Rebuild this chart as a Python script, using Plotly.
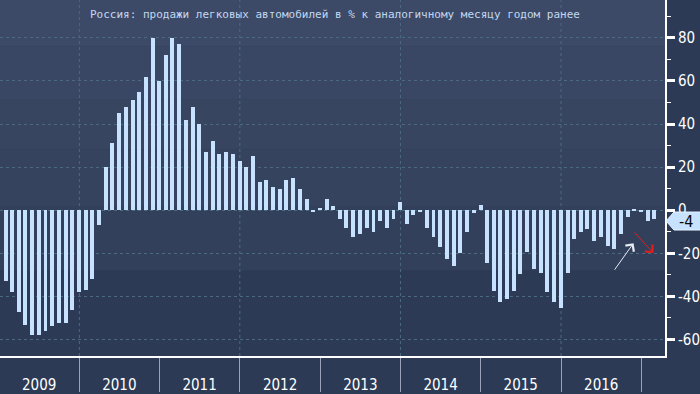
import pandas as pd
import plotly.graph_objects as go

TITLE = "Россия: продажи легковых автомобилей в % к аналогичному месяцу годом ранее"
START_MONTH = "2009-01-31"
VALUES = [
    # 2009
    -33.0, -38.1, -47.3, -53.1, -58.1, -58.1, -56.3, -54.0, -52.2, -52.2, -46.2, -38.1,
    # 2010
    -37.0, -31.9, -7.1, 20.0, 31.0, 45.0, 48.0, 51.0, 55.0, 62.0, 80.0, 60.0,
    # 2011
    72.0, 80.0, 77.0, 42.0, 48.0, 40.0, 27.0, 32.0, 26.0, 27.0, 26.0, 23.0,
    # 2012
    20.0, 25.0, 13.0, 14.0, 11.0, 10.0, 14.0, 15.0, 10.0, 5.0, -0.5, 1.0,
    # 2013
    5.0, 2.0, -4.0, -8.2, -12.3, -11.0, -8.2, -10.0, -5.0, -8.2, -4.0, 3.6,
    # 2014
    -6.4, -2.3, -0.6, -8.2, -12.3, -17.3, -22.7, -25.9, -20.0, -10.0, -1.2, 2.3,
    # 2015
    -24.5, -37.7, -42.7, -41.4, -37.7, -29.5, -19.5, -27.3, -29.1, -38.2, -42.7, -45.5,
    # 2016
    -29.1, -13.2, -9.9, -8.6, -14.5, -12.3, -16.8, -18.2, -10.9, -3.1, 0.5, -0.9,
    # 2017
    -4.9, -4.1,
]
YEARS = ["2009", "2010", "2011", "2012", "2013", "2014", "2015", "2016"]
YTICKS = [80, 60, 40, 20, 0, -20, -40, -60]
LAST_LABEL = "-4"

dates = pd.date_range(START_MONTH, periods=len(VALUES), freq="ME")

BAR = "#c6e2ff"
GRID = "#4b6a80"
FONT_NARROW = "Liberation Sans Narrow, DejaVu Sans Condensed, Arial Narrow, sans-serif"

fig = go.Figure()
fig.add_trace(go.Bar(
    x=dates, y=VALUES,
    marker=dict(color=BAR, line=dict(width=0)),
    width=1000 * 3600 * 24 * 18,
    hoverinfo="x+y",
))

year_mid = [f"{y}-07-02" for y in YEARS]
year_bounds = [f"{int(y) + 1}-01-01" for y in YEARS]

# background gradient bands (plot area)
bands = [
    (0.00, 0.13, "#3d4a67"),
    (0.13, 0.28, "#3a4764"),
    (0.28, 0.42, "#384561"),
    (0.42, 0.58, "#35435f"),
    (0.58, 0.76, "#33405c"),
    (0.76, 1.00, "#2d3a56"),
]
shapes = []
for t0, t1, col in bands:
    shapes.append(dict(type="rect", xref="paper", yref="paper",
                       x0=0, x1=1, y0=1 - t1, y1=1 - t0,
                       fillcolor=col, line=dict(width=0), layer="below"))
# vertical dotted grid every two years
for yb in year_bounds[0::2]:
    shapes.append(dict(type="line", xref="x", yref="paper",
                       x0=yb, x1=yb, y0=0, y1=1,
                       line=dict(color=GRID, width=1, dash="dot"), layer="below"))
# callout box for last value
shapes.append(dict(type="path", xref="paper", yref="y",
                   xsizemode="pixel", ysizemode="pixel",
                   xanchor=1, yanchor=VALUES[-1],
                   path="M 1,-2 L 9,7 L 40,7 L 40,-11 L 9,-11 Z",
                   fillcolor=BAR, line=dict(color="#e8f2ff", width=1), layer="above"))

annotations = [
    dict(xref="paper", yref="y", x=1, y=VALUES[-1], xanchor="left", yanchor="middle",
         xshift=12, yshift=-2, text=LAST_LABEL, showarrow=False,
         font=dict(family=FONT_NARROW, size=16, color="#0a0a0a")),
    # white arrow (up)
    dict(x="2016-11-26", y=-15.3, xref="x", yref="y", ax=-20, ay=28,
         showarrow=True, arrowhead=4, arrowsize=2, arrowwidth=1,
         arrowcolor="#e6ecf4", text=""),
    # red arrow (down)
    dict(x="2017-02-24", y=-19.9, xref="x", yref="y", ax=-20, ay=-22,
         showarrow=True, arrowhead=4, arrowsize=2, arrowwidth=1,
         arrowcolor="#e01e1e", text=""),
]

fig.update_layout(
    width=700, height=394,
    margin=dict(l=0, r=34, t=0, b=34),
    paper_bgcolor="#2c3a56",
    plot_bgcolor="rgba(0,0,0,0)",
    showlegend=False,
    bargap=0,
    title=dict(text=TITLE, x=0.4785, xanchor="center", y=0.965, yanchor="middle",
               font=dict(family="DejaVu Sans Mono", size=11, color="#c2d8f0")),
    shapes=shapes,
    annotations=annotations,
    xaxis=dict(
        type="date",
        range=["2009-01-05", "2017-04-18"],
        tickmode="array", tickvals=year_mid, ticktext=YEARS,
        ticks="outside", ticklen=14, tickcolor="rgba(0,0,0,0)",
        tickfont=dict(family=FONT_NARROW, size=15, color="#ffffff"),
        showgrid=False, zeroline=False,
        showline=True, linecolor="#ffffff", linewidth=2,
        minor=dict(tickmode="array", tickvals=year_bounds, ticks="outside",
                   ticklen=34, tickcolor="#9aa3b5", tickwidth=1, showgrid=False),
    ),
    yaxis=dict(
        side="right",
        range=[-67.7, 97.6],
        tickmode="array", tickvals=YTICKS, ticktext=[str(v) for v in YTICKS],
        ticks="outside", ticklen=8, tickwidth=3, tickcolor="#ffffff",
        tickfont=dict(family=FONT_NARROW, size=15, color="#ffffff"),
        showgrid=True, gridcolor=GRID, griddash="dot", gridwidth=1,
        zeroline=False,
        showline=True, linecolor="#ffffff", linewidth=2,
        minor=dict(dtick=10, tick0=0, ticks="outside", ticklen=4,
                   tickcolor="#ffffff", tickwidth=1, showgrid=False),
    ),
)

fig.write_html(
    "out.html",
    config={"displayModeBar": False},
    post_script="document.body.style.margin='0';document.body.style.padding='0';"
                "document.body.style.background='#2c3a56';",
)
